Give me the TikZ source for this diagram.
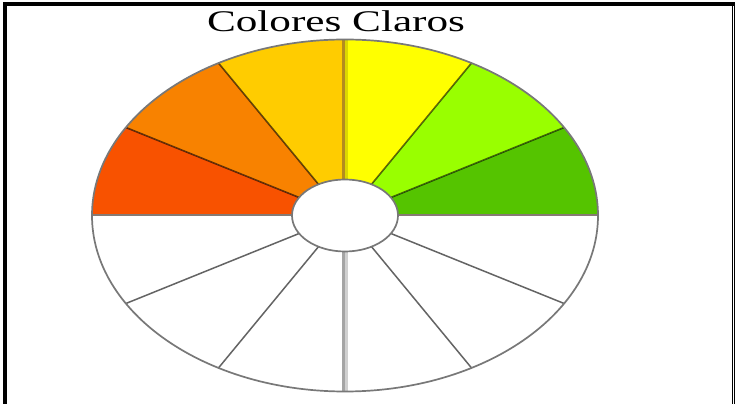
\documentclass[tikz,border=0pt]{standalone}
\usepackage{fontspec}
\setmainfont{Liberation Serif}
\usetikzlibrary{calc}
\definecolor{cred}{RGB}{248,82,0}
\definecolor{corange}{RGB}{248,130,0}
\definecolor{cgold}{RGB}{255,204,0}
\definecolor{cyellow}{RGB}{255,255,0}
\definecolor{clime}{RGB}{153,255,0}
\definecolor{cgreen}{RGB}{85,196,0}
\definecolor{rimgray}{RGB}{120,120,120}
\definecolor{spokegray}{RGB}{100,100,100}
\definecolor{basegray}{RGB}{135,122,115}
\definecolor{vdark}{RGB}{165,165,165}
\definecolor{vlight}{RGB}{208,208,208}
\definecolor{vgolddark}{RGB}{180,140,30}
\definecolor{vgoldlight}{RGB}{220,215,0}
\newcommand\wheelsector[3]{%
  \fill[#3] ($(O)+(#1:53pt and 36pt)$) -- ($(O)+(#1:253pt and 176pt)$)
    arc[start angle=#1, end angle=#2, x radius=253pt, y radius=176pt]
    -- ($(O)+(#2:53pt and 36pt)$)
    arc[start angle=#2, end angle=#1, x radius=53pt, y radius=36pt] -- cycle;}
\newcommand\wheelspoke[2]{%
  \draw[#2] ($(O)+(#1:53pt and 36pt)$) -- ($(O)+(#1:253pt and 176pt)$);}
\tikzset{
  darkspoke/.style={draw=black, draw opacity=0.6, line width=1.6pt},
  lightspoke/.style={draw=spokegray, line width=1.5pt},
  rim/.style={draw=rimgray, line width=1.7pt},
  frame/.style={fill=black},
  titletext/.style={font=\fontsize{30}{36}\selectfont, text=black, xscale=1.44, inner sep=0pt, anchor=base}
}
\begin{document}
\begin{tikzpicture}[x=1pt,y=1pt]
\useasboundingbox (0,0) rectangle (736,404);
\fill[white] (0,0) rectangle (736,404);
\coordinate (O) at (345,188.5);
% coloured upper half
\wheelsector{0}{30}{cgreen}
\wheelsector{30}{60}{clime}
\wheelsector{60}{90}{cyellow}
\wheelsector{90}{120}{cgold}
\wheelsector{120}{150}{corange}
\wheelsector{150}{180}{cred}
% spokes in the coloured half
\wheelspoke{30}{darkspoke}
\wheelspoke{60}{darkspoke}
\wheelspoke{120}{darkspoke}
\wheelspoke{150}{darkspoke}
% spokes in the white half
\wheelspoke{210}{lightspoke}
\wheelspoke{240}{lightspoke}
\wheelspoke{300}{lightspoke}
\wheelspoke{330}{lightspoke}
% horizontal base lines
\draw[draw=basegray, line width=2pt] ($(O)+(53,0)$) -- ($(O)+(253,0)$);
\draw[draw=basegray, line width=2pt] ($(O)+(-53,0)$) -- ($(O)+(-253,0)$);
% vertical lines
\draw[vgolddark, line width=3pt] ($(O)+(-1.7,36)$) -- ($(O)+(-1.7,176)$);
\draw[vgoldlight, line width=3.5pt] ($(O)+(1.6,36)$) -- ($(O)+(1.6,176)$);
\draw[vdark, line width=3pt] ($(O)+(-1.7,-36)$) -- ($(O)+(-1.7,-176)$);
\draw[vlight, line width=3.5pt] ($(O)+(1.6,-36)$) -- ($(O)+(1.6,-176)$);
% rims
\draw[rim] (O) ellipse[x radius=253pt, y radius=176pt];
\draw[rim, fill=white] (O) ellipse[x radius=53pt, y radius=36pt];
% title
\node[titletext] (title) at (336,372.3) {Colores Claros};
% frame
\fill[frame] (3,398) rectangle (733.5,402);
\fill[frame] (3,0) rectangle (7,402);
\fill[frame] (731.7,0) rectangle (732.8,398);
\fill[frame] (733.7,0) rectangle (734.8,402);
\end{tikzpicture}
\end{document}
